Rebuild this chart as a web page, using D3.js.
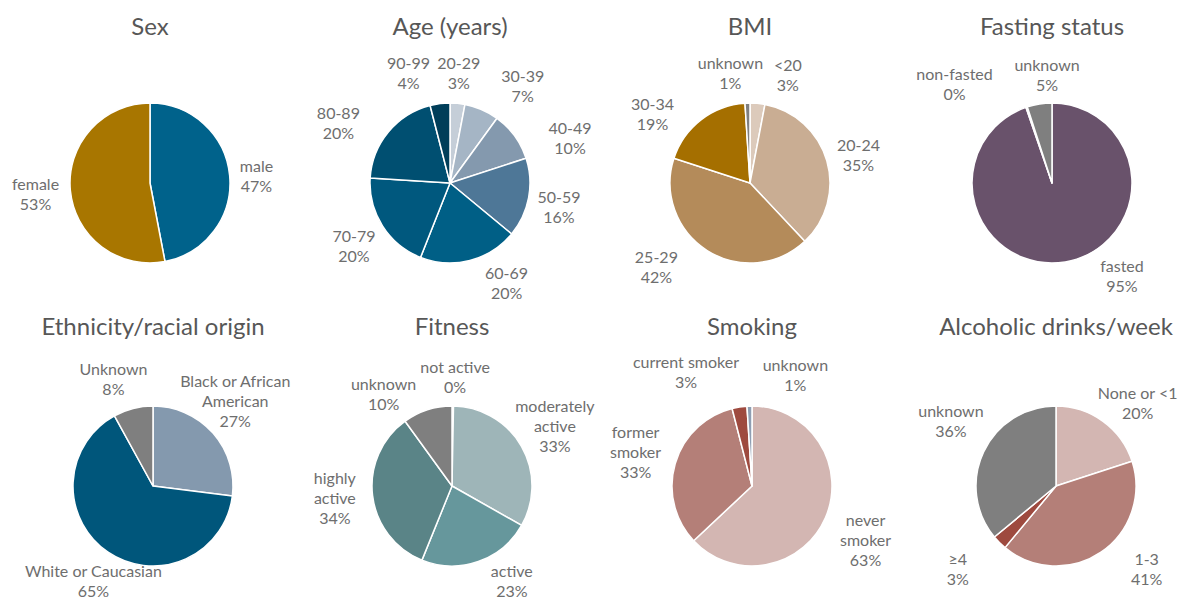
<!DOCTYPE html>
<html>
<head>
<meta charset="utf-8">
<script src="https://cdn.jsdelivr.net/npm/d3@7"></script>
<style>
  html, body { margin: 0; padding: 0; background: #ffffff; }
  svg { display: block; }
</style>
</head>
<body>
<svg id="chart" width="1181" height="599"></svg>
<script>
// ---------------- DATA ----------------
const sexCats = ["male", "female"];
const sexVals = [47, 53];

const ageCats = ["20-29", "30-39", "40-49", "50-59", "60-69", "70-79", "80-89", "90-99"];
const ageVals = [3, 7, 10, 16, 20, 20, 20, 4];

const bmiCats = ["<20", "20-24", "25-29", "30-34", "unknown"];
const bmiVals = [3, 35, 42, 19, 1];

const fastCats = ["fasted", "non-fasted", "unknown"];
const fastVals = [95, 0.3, 5];

const ethCats = ["Black or African\nAmerican", "White or Caucasian", "Unknown"];
const ethVals = [27, 65, 8];

const fitCats = ["not active", "moderately\nactive", "active", "highly\nactive", "unknown"];
const fitVals = [0.3, 33, 23, 34, 10];

const smokeCats = ["never\nsmoker", "former\nsmoker", "current smoker", "unknown"];
const smokeVals = [63, 33, 3, 1];

const alcCats = ["None or <1", "1-3", "\u22654", "unknown"];
const alcVals = [20, 41, 3, 36];

const titles = ["Sex", "Age (years)", "BMI", "Fasting status",
                "Ethnicity/racial origin", "Fitness", "Smoking", "Alcoholic drinks/week"];

// ---------------- STYLES ----------------
const sexColors   = ["#00628B", "#A87600"];
const ageColors   = ["#C5CED8", "#A5B5C5", "#8499AE", "#4E7797", "#005F86", "#00587E", "#004F71", "#003E59"];
const bmiColors   = ["#DCCABB", "#C9AD93", "#B48B5A", "#A56F00", "#7F7F7F"];
const fastColors  = ["#69526B", "#B9A7BA", "#7F7F7F"];
const ethColors   = ["#8499AE", "#00567B", "#7F7F7F"];
const fitColors   = ["#C9D6D8", "#9EB5B8", "#66979C", "#5A8487", "#7F7F7F"];
const smokeColors = ["#D3B6B2", "#B47F78", "#9E4A3F", "#8E9EB2"];
const alcColors   = ["#D3B6B2", "#B47F78", "#9E4A3F", "#7F7F7F"];

// ---------------- LAYOUT ----------------
const R = 80;           // pie radius
const LABEL_R = 115;    // base label radius
const LINE_H = 20;

const charts = [
  { cats: sexCats,   vals: sexVals,   colors: sexColors,   cx: 150,  cy: 183, ty: 35,
    nudge: [[-8, 3], [0, 0]] },
  { cats: ageCats,   vals: ageVals,   colors: ageColors,   cx: 450,  cy: 183, ty: 35,
    nudge: [[-2, 4], [27, 8], [27, 22], [-4, 2], [28, -12], [1, 1], [-23, 13], [-27, 4]] },
  { cats: bmiCats,   vals: bmiVals,   colors: bmiColors,   cx: 750,  cy: 183, ty: 35,
    nudge: [[27, 6], [-2, 4], [-32, -14], [-27, 21], [-16, 4]] },
  { cats: fastCats,  vals: fastVals,  colors: fastColors,  cx: 1052, cy: 183, ty: 35,
    nudge: [[51, -21], [-61, 10], [13, 5]] },
  { cats: ethCats,   vals: ethVals,   colors: ethColors,   cx: 153,  cy: 486, ty: 335,
    nudge: [[-4, -9], [5, -1], [-11, 4]] },
  { cats: fitCats,   vals: fitVals,   colors: fitColors,   cx: 452,  cy: 486, ty: 335,
    nudge: [[2, 5], [3, -4], [22, -14], [-3, -2], [-33, 17]] },
  { cats: smokeCats, vals: smokeVals, colors: smokeColors, cx: 752,  cy: 486, ty: 335,
    nudge: [[8, 8], [-6, -2], [-48, -1], [47, 3]] },
  { cats: alcCats,   vals: alcVals,   colors: alcColors,   cx: 1056, cy: 486, ty: 335,
    nudge: [[14, 10], [26, -13], [-17, 1], [-1, -17]] }
];

const svg = d3.select("#chart");
const pie = d3.pie().sort(null).value(d => d.v);
const arc = d3.arc().innerRadius(0).outerRadius(R);

charts.forEach((c, ci) => {
  const g = svg.append("g").attr("transform", `translate(${c.cx},${c.cy})`);
  const data = c.cats.map((k, i) => ({ k, v: c.vals[i], col: c.colors[i], n: c.nudge[i] }));
  const arcs = pie(data);

  g.selectAll("path.slice").data(arcs).enter().append("path")
    .attr("class", "slice")
    .attr("d", arc)
    .attr("fill", d => d.data.col)
    .attr("stroke", "#ffffff")
    .attr("stroke-width", 1.5)
    .attr("stroke-linejoin", "round");

  // title
  svg.append("text")
    .attr("x", c.cx)
    .attr("y", c.ty)
    .attr("text-anchor", "middle")
    .attr("font-family", "Lato, 'Open Sans', sans-serif")
    .attr("font-size", 24)
    .attr("fill", "#575757")
    .text(titles[ci]);

  // labels
  arcs.forEach(a => {
    const mid = (a.startAngle + a.endAngle) / 2;
    const lx = Math.sin(mid) * LABEL_R + a.data.n[0];
    const ly = -Math.cos(mid) * LABEL_R + a.data.n[1];
    const lines = a.data.k.split("\n").concat([Math.round(a.data.v) + "%"]);
    const t = g.append("text")
      .attr("text-anchor", "middle")
      .attr("font-family", "Lato, 'Open Sans', sans-serif")
      .attr("font-size", 16)
      .attr("fill", "#6e6e6e");
    lines.forEach((s, i) => {
      t.append("tspan")
        .attr("x", lx)
        .attr("y", ly + (i - (lines.length - 1) / 2) * LINE_H)
        .attr("dominant-baseline", "central")
        .text(s);
    });
  });
});
</script>
</body>
</html>
